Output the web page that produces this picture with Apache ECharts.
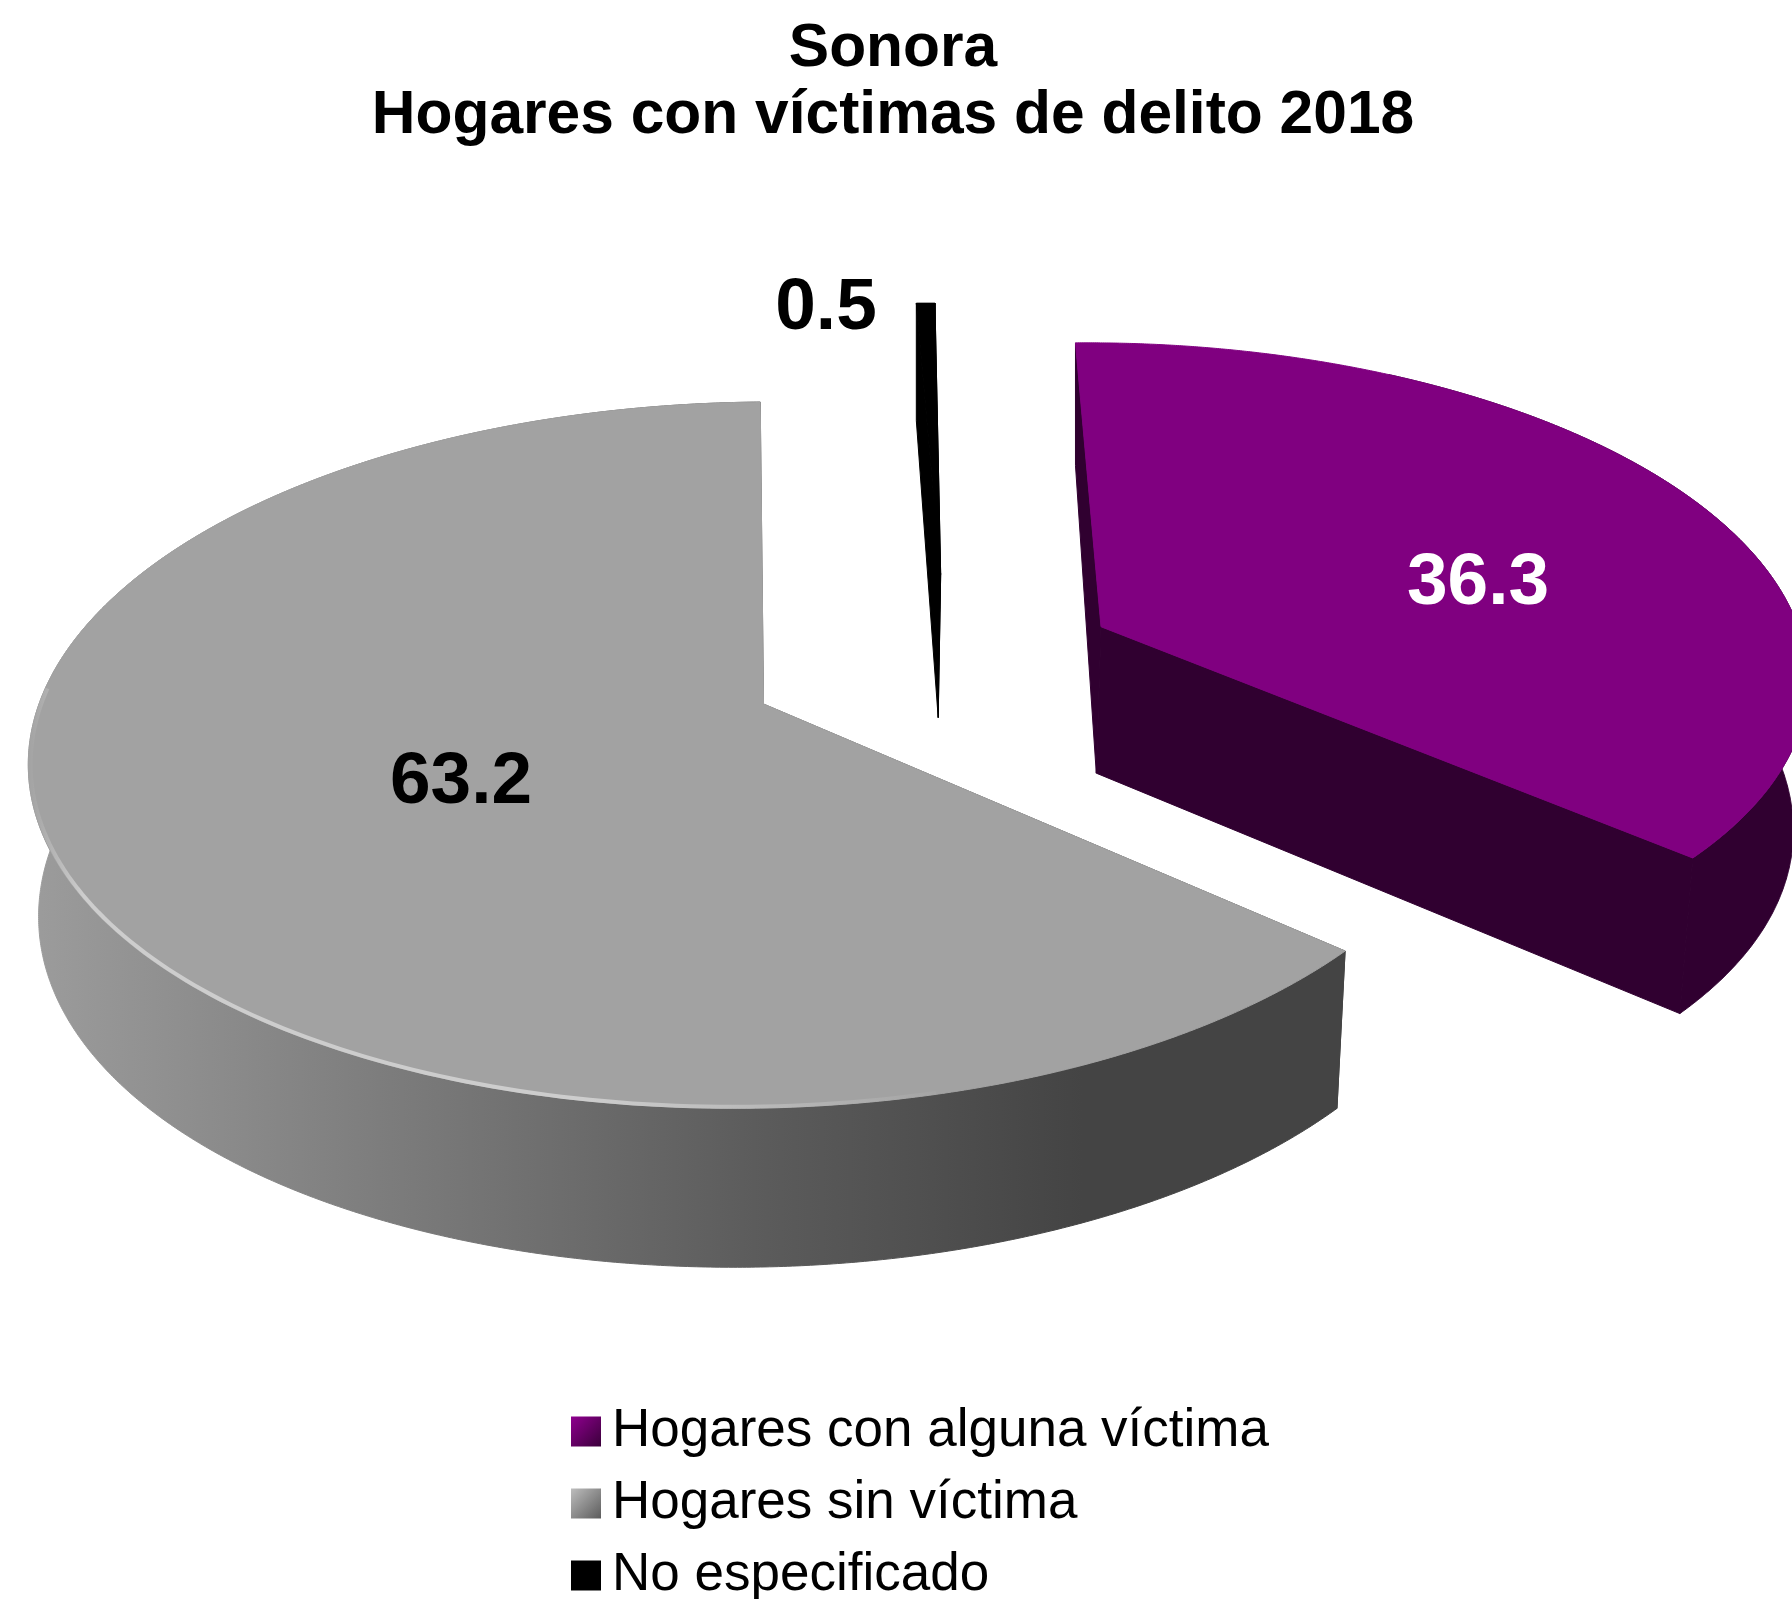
<!DOCTYPE html>
<html>
<head>
<meta charset="utf-8">
<title>Sonora</title>
<style>
  html, body { margin: 0; padding: 0; background: #fff; }
  #chart { width: 1792px; height: 1599px; }
</style>
<script src="https://cdn.jsdelivr.net/npm/echarts@6/dist/echarts.min.js"></script>
</head>
<body>
<div id="chart"></div>
<script>
// datos
var categories = ['Hogares con alguna víctima', 'Hogares sin víctima', 'No especificado'];
var values = [36.3, 63.2, 0.5];
var titleLines = ['Sonora', 'Hogares con víctimas de delito 2018'];

// perspectiva del pastel 3D (plano del disco -> pantalla)
var FONT = '"Liberation Sans", Arial, sans-serif';
var originX = 763.5, originY = 704;
var H = { a: 717, c: -8.6, d: -345.6, m: 0.01426, k: 0.1445 };
var startAngle = 1.5;
var wallShrink = 0.986;

var G = echarts.graphic.LinearGradient;

// explosion de cada rebanada, color y posicion de su etiqueta
// bulge: el arco morado no es del todo circular en el original
// wallSkip: grados del arco trasero que no muestran pared
var sliceStyle = [
  { du: 0.489, dv: 0.22, r: 1.005, bulge: 0.026, wallSkip: 30, top: '#800080', wall: '#300030', label: '#fff', lx: 1478, ly: 584 },
  { du: 0, dv: 0, r: 1, bulge: 0, wallSkip: 0, top: '#a2a2a2',
    wall: new G(30, 0, 1346, 0, [
      { offset: 0, color: '#9c9c9c' },
      { offset: 0.3, color: '#797979' },
      { offset: 0.55, color: '#5c5c5c' },
      { offset: 0.8, color: '#444444' },
      { offset: 1, color: '#444444' }
    ], true),
    label: '#000', lx: 461, ly: 783 },
  { du: 0.262, dv: 0.391, r: 1, bulge: 0, wallSkip: 2, top: '#000', wall: '#000', label: '#000', lx: 826, ly: 309 }
];

function project(u, v) {
  var w = 1 + H.m * u + H.k * v;
  return [originX + H.a * u / w, originY + (H.c * u + H.d * v) / w, v];
}

function wallDepth(p) {
  var v = p[2];
  return 150 - 15 * v - 6 * v * v;
}

function drop(p) {
  return [originX + (p[0] - originX) * wallShrink, p[1] + wallDepth(p)];
}

function rimPoint(s, deg, r) {
  var t = deg * Math.PI / 180;
  return project(s.du + r * Math.sin(t), s.dv + r * Math.cos(t));
}

function sliceRange(i) {
  var total = values.reduce(function (a, b) { return a + b }, 0);
  var before = values.slice(0, i).reduce(function (a, b) { return a + b }, 0);
  return [startAngle + before / total * 360, startAngle + (before + values[i]) / total * 360];
}

function renderSlice(i, params, api) {
  var s = sliceStyle[i];
  var range = sliceRange(i);
  var sweep = range[1] - range[0];
  var apex = project(s.du, s.dv);
  var arc = [];
  for (var step = 0; step <= 720; step++) {
    var d = range[0] + sweep * step / 720;
    arc.push(rimPoint(s, d, s.r + s.bulge * Math.sin(Math.PI * step / 720)));
  }

  var first = arc[0], last = arc[arc.length - 1];
  var firstDrop = s.wallSkip ? [first[0], first[1] + wallDepth(first)] : drop(first);
  var wallArc = arc.slice(Math.round(720 * Math.min(s.wallSkip / sweep, 1)));
  var wallPts = wallArc.map(function (p) { return [p[0], p[1]] })
    .concat(wallArc.slice().reverse().map(drop));
  var wallStyle = { fill: s.wall, stroke: s.wall, lineWidth: 1 };
  var children = [
    { type: 'polygon', shape: { points: [apex, first, firstDrop, drop(apex)] }, style: wallStyle },
    { type: 'polygon', shape: { points: [apex, last, drop(last), drop(apex)] }, style: wallStyle },
    { type: 'polygon', shape: { points: wallPts }, style: wallStyle },
    { type: 'polygon', shape: { points: [apex].concat(arc) }, style: { fill: s.top, stroke: s.top, lineWidth: 1 } }
  ];

  // brillo del borde en la rebanada gris
  if (i === 1) {
    var rim = [];
    for (var r = 168; r <= 274; r += 1) rim.push(rimPoint(s, r, 0.997));
    children.push({
      type: 'polyline',
      shape: { points: rim },
      style: {
        fill: 'none',
        lineWidth: 4,
        stroke: new G(28, 0, 960, 0, [
          { offset: 0, color: 'rgba(205,205,205,0)' },
          { offset: 0.06, color: 'rgba(205,205,205,1)' },
          { offset: 0.6, color: 'rgba(205,205,205,1)' },
          { offset: 1, color: 'rgba(205,205,205,0)' }
        ], true)
      }
    });
  }

  children.push({
    type: 'text',
    style: {
      text: api.value(0).toFixed(1),
      x: s.lx,
      y: s.ly,
      fill: s.label,
      font: 'bold 73px ' + FONT,
      textAlign: 'center',
      textVerticalAlign: 'middle'
    }
  });

  return { type: 'group', children: children };
}

var legendColors = [
  new G(0, 0, 1, 1, [{ offset: 0, color: '#8f008f' }, { offset: 1, color: '#3a003a' }]),
  new G(0, 0, 1, 1, [{ offset: 0, color: '#bdbdbd' }, { offset: 1, color: '#5c5c5c' }]),
  '#000'
];

var chart = echarts.init(document.getElementById('chart'), null, { renderer: 'canvas' });
chart.setOption({
  animation: false,
  backgroundColor: '#fff',
  title: {
    text: titleLines.join('\n'),
    left: 893,
    top: 16,
    textAlign: 'center',
    padding: 0,
    textStyle: { fontFamily: FONT, fontWeight: 'bold', fontSize: 60.5, lineHeight: 67, color: '#000' }
  },
  legend: {
    orient: 'vertical',
    left: 571,
    top: 1405,
    height: 300,
    padding: 0,
    itemGap: 19,
    itemWidth: 30,
    itemHeight: 30,
    icon: 'rect',
    textStyle: { fontFamily: FONT, fontSize: 53, color: '#000', padding: [0, 0, 0, 6], lineHeight: 50 },
    data: categories.map(function (name, i) {
      return { name: name, itemStyle: { color: legendColors[i] } };
    })
  },
  series: categories.map(function (name, i) {
    return {
      type: 'custom',
      name: name,
      coordinateSystem: 'none',
      silent: true,
      itemStyle: { color: legendColors[i] },
      renderItem: function (params, api) { return renderSlice(i, params, api) },
      data: [[values[i]]]
    };
  })
});
</script>
</body>
</html>
